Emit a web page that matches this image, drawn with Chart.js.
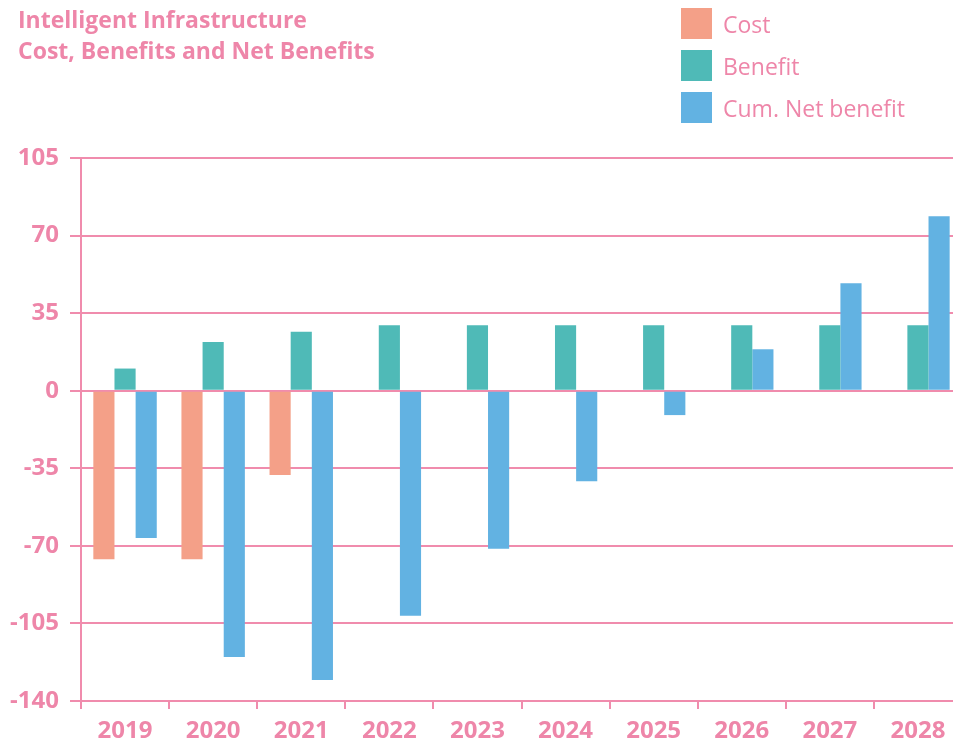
<!DOCTYPE html>
<html>
<head>
<meta charset="utf-8">
<script src="https://cdn.jsdelivr.net/npm/chart.js@4.4.0/dist/chart.umd.min.js"></script>
<style>
  html, body { margin: 0; padding: 0; background: #fff; overflow: hidden; }
  #wrap { position: relative; width: 953px; height: 745px; overflow: hidden; }
  #title { position: absolute; left: 18px; top: 4px; font-family: "Open Sans", sans-serif; font-weight: bold; font-size: 23px; line-height: 31px; color: #ee86a9; }
  #legend { position: absolute; left: 681px; top: 8px; font-family: "Open Sans", sans-serif; font-size: 23px; color: #ee86a9; }
  .item { display: flex; align-items: center; height: 31px; margin-bottom: 11px; }
  .sw { width: 31px; height: 31px; margin-right: 11px; }
</style>
</head>
<body>
<div id="wrap">
  <canvas id="chart" width="962" height="745"></canvas>
  <div id="title">Intelligent Infrastructure<br>Cost, Benefits and Net Benefits</div>
  <div id="legend"></div>
</div>
<script>
var years = ['2019', '2020', '2021', '2022', '2023', '2024', '2025', '2026', '2027', '2028'];
var costData = [-76, -76, -38, null, null, null, null, null, null, null];
var benefitData = [10, 22, 26.6, 29.5, 29.5, 29.5, 29.5, 29.5, 29.5, 29.5];
var netData = [-66.5, -120.2, -130.5, -101.5, -71.3, -40.8, -11, 18.7, 48.5, 78.7];

var pink = '#ee86a9';
var gridPink = '#f08cad';

var datasets = [
    { label: 'Cost', data: costData, backgroundColor: '#f4a088' },
    { label: 'Benefit', data: benefitData, backgroundColor: '#4fbab7' },
    { label: 'Cum. Net benefit', data: netData, backgroundColor: '#62b2e2' }
];

var legend = document.getElementById('legend');
datasets.forEach(function(ds) {
    var row = document.createElement('div');
    row.className = 'item';
    var sw = document.createElement('div');
    sw.className = 'sw';
    sw.style.background = ds.backgroundColor;
    row.appendChild(sw);
    row.appendChild(document.createTextNode(ds.label));
    legend.appendChild(row);
});

var ctx = document.getElementById('chart').getContext('2d');

var chart = new Chart(ctx, {
    type: 'bar',
    data: {
        labels: years,
        datasets: datasets
    },
    options: {
        responsive: false,
        animation: false,
        layout: { padding: { top: 158, right: 0, bottom: 0, left: 0 } },
        datasets: {
            bar: { categoryPercentage: 0.72, barPercentage: 1.0 }
        },
        scales: {
            x: {
                grid: {
                    display: true,
                    drawOnChartArea: false,
                    drawTicks: true,
                    tickLength: 8,
                    offset: true,
                    color: gridPink,
                    lineWidth: 2
                },
                border: { display: true, color: gridPink, width: 2 },
                ticks: {
                    color: pink,
                    padding: 8,
                    font: { family: 'Open Sans', weight: 'bold', size: 24 }
                },
                afterFit: function(scale) { scale.height = 44; }
            },
            y: {
                min: -140,
                max: 105,
                ticks: {
                    stepSize: 35,
                    color: pink,
                    padding: 11,
                    font: { family: 'Open Sans', weight: 'bold', size: 24 }
                },
                grid: {
                    color: gridPink,
                    lineWidth: 2,
                    drawTicks: true,
                    tickLength: 11
                },
                border: { display: true, color: gridPink, width: 2 },
                afterFit: function(scale) { scale.width = 81; }
            }
        },
        plugins: {
            legend: { display: false },
            title: { display: false },
            tooltip: { enabled: false }
        }
    }
});
</script>
</body>
</html>
